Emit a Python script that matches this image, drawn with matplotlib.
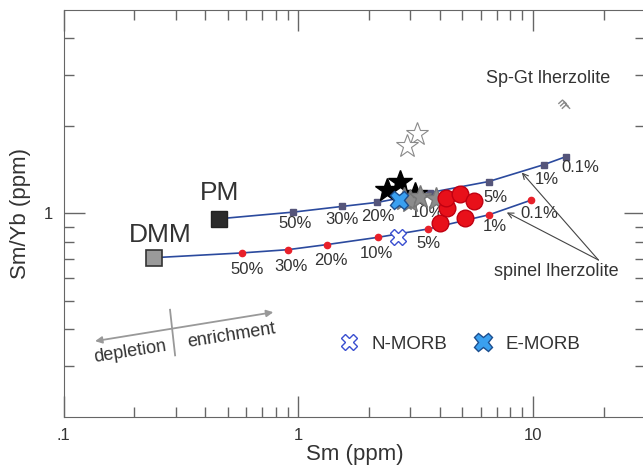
# Sm vs Sm/Yb melting model plot (PM and DMM melting curves)

import matplotlib.pyplot as plt
from matplotlib.path import Path
from matplotlib.ticker import FixedLocator, FixedFormatter, NullFormatter

plt.rcParams["font.family"] = ["Liberation Sans", "DejaVu Sans"]

# source compositions
pm_x, pm_y = 0.459, 0.959
dmm_x, dmm_y = 0.243, 0.705

# melt fractions along the curves
pct_labels = ["50%", "30%", "20%", "10%", "5%", "1%", "0.1%"]

# PM melting curve (dark squares)
pm_curve_x = [0.952, 1.53, 2.17, 3.64, 6.46, 11.14, 13.8]
pm_curve_y = [1.011, 1.057, 1.092, 1.18, 1.287, 1.472, 1.567]
pm_lab_x = [0.968, 1.528, 2.19, 3.54, 6.90, 11.45, 15.88]
pm_lab_y = [0.922, 0.951, 0.974, 1.006, 1.132, 1.311, 1.437]

# DMM melting curve (red dots)
dmm_curve_x = [0.574, 0.901, 1.325, 2.18, 3.58, 6.50, 9.80]
dmm_curve_y = [0.732, 0.751, 0.782, 0.828, 0.885, 0.99, 1.111]
dmm_lab_x = [0.602, 0.931, 1.379, 2.144, 3.58, 6.90, 10.62]
dmm_lab_y = [0.641, 0.658, 0.689, 0.728, 0.786, 0.900, 0.998]

# samples
open_star_x = [3.20, 2.91]
open_star_y = [1.879, 1.706]
black_star_x = [2.39, 2.71, 3.14]
black_star_y = [1.206, 1.284, 1.168]
gray_star_x = [2.82, 2.99, 3.30, 3.86]
gray_star_y = [1.123, 1.105, 1.141, 1.123]
red_x = [4.02, 4.31, 4.26, 4.89, 5.61, 5.13]
red_y = [0.929, 1.046, 1.132, 1.168, 1.105, 0.967]
nmorb_x, nmorb_y = [2.67], [0.828]
emorb_x, emorb_y = [2.69], [1.111]
spgt_x, spgt_y = [13.3], [2.41]

lineBlue = "#2b4a9e"
textGray = "#333333"

fig = plt.figure(figsize=(6.43, 4.68), dpi=100)
ax = fig.add_axes([0.0991, 0.109, 0.904, 0.8697])
ax.set_xscale("log")
ax.set_yscale("log")
ax.set_xlim(0.1, 30)
ax.set_ylim(0.2, 5)

# melting curves
ax.plot([pm_x] + pm_curve_x, [pm_y] + pm_curve_y, color=lineBlue, lw=1.2, zorder=2)
ax.plot([dmm_x] + dmm_curve_x, [dmm_y] + dmm_curve_y, color=lineBlue, lw=1.2, zorder=2)
ax.plot(pm_curve_x, pm_curve_y, "s", ms=4, color="#55557a", zorder=3)
ax.plot(dmm_curve_x, dmm_curve_y, "o", ms=4.5, color="#e8202a", zorder=3)
ax.plot(pm_x, pm_y, "s", ms=12, mfc="#2b2b2b", mec="#222222", zorder=3)
ax.plot(dmm_x, dmm_y, "s", ms=12, mfc="#9a9a9a", mec="#333333", mew=1.2, zorder=3)

for lab, x, y in zip(pct_labels, pm_lab_x, pm_lab_y):
    ax.text(x, y, lab, fontsize=12, color=textGray, ha="center", va="center")
for lab, x, y in zip(pct_labels, dmm_lab_x, dmm_lab_y):
    ax.text(x, y, lab, fontsize=12, color=textGray, ha="center", va="center")

ax.text(0.4637, 1.177, "PM", fontsize=19, color=textGray, ha="center", va="center")
ax.text(0.2573, 0.845, "DMM", fontsize=19, color=textGray, ha="center", va="center")

# samples
ax.plot(open_star_x, open_star_y, "*", ms=17, mfc="white", mec="#8a8a8a", mew=0.8, ls="none", zorder=4)
ax.plot(black_star_x, black_star_y, "*", ms=18, mfc="black", mec="black", ls="none", zorder=4)
ax.plot(gray_star_x, gray_star_y, "*", ms=17, mfc="#8c8c8c", mec="#777777", ls="none", zorder=5)
ax.plot(red_x, red_y, "o", ms=12, mfc="#e8101a", mec="#c00010", ls="none", zorder=6)
nm, = ax.plot(nmorb_x, nmorb_y, "X", ms=12, mfc="white", mec="#3a4fd0", mew=1.0, ls="none", zorder=7)
em, = ax.plot(emorb_x, emorb_y, "X", ms=13, mfc="#3aa0f0", mec="#1d4f8f", mew=1.0, ls="none", zorder=7)

# Sp-Gt lherzolite symbol: stacked chevrons
verts, codes = [], []
for k in range(3):
    dx, dy = 0.25 * k, -0.35 * k
    verts += [(-0.6 + dx, -0.2 + dy), (0.0 + dx, 0.35 + dy), (0.6 + dx, -0.2 + dy)]
    codes += [Path.MOVETO, Path.LINETO, Path.LINETO]
chevron = Path(verts, codes)
ax.plot(spgt_x, spgt_y, marker=chevron, ms=11, mfc="none", mec="#8a8a8a", mew=1.0, ls="none")
ax.text(11.6, 2.915, "Sp-Gt lherzolite", fontsize=13, color=textGray, ha="center", va="center")

# spinel lherzolite arrows
ax.text(12.55, 0.631, "spinel lherzolite", fontsize=13, color=textGray, ha="center", va="center")
for tx, ty in [(8.96, 1.382), (7.73, 1.008)]:
    ax.annotate("", xy=(tx, ty), xytext=(19.0, 0.692),
                arrowprops=dict(arrowstyle="->", color="#444444", lw=0.8, shrinkA=0, shrinkB=0))

# depletion / enrichment
ax.annotate("", xy=(0.136, 0.3644), xytext=(0.782, 0.458),
            arrowprops=dict(arrowstyle="<|-|>", color="#999999", lw=1.3, mutation_scale=10, shrinkA=0, shrinkB=0))
ax.plot([0.2838, 0.2983], [0.467, 0.3256], color="#999999", lw=1.3)
ax.text(0.1917, 0.334, "depletion", fontsize=13, color=textGray, rotation=9, ha="center", va="center")
ax.text(0.52, 0.3813, "enrichment", fontsize=13, color=textGray, rotation=9, ha="center", va="center")

# legend
ax.legend([nm, em], ["N-MORB", "E-MORB"], ncol=2, frameon=False, loc="center left",
          bbox_to_anchor=(0.442, 0.179), fontsize=13.5, handletextpad=0.6, columnspacing=1.3,
          handlelength=1.2, labelcolor=textGray)

# axes and ticks
ax.xaxis.set_major_locator(FixedLocator([0.1, 1, 10]))
ax.xaxis.set_major_formatter(FixedFormatter([".1", "1", "10"]))
ax.xaxis.set_minor_locator(FixedLocator([0.2, 0.3, 0.4, 0.5, 0.6, 0.7, 0.8, 0.9,
                                         2, 3, 4, 5, 6, 7, 8, 9, 20]))
ax.xaxis.set_minor_formatter(NullFormatter())
ax.yaxis.set_major_locator(FixedLocator([1]))
ax.yaxis.set_major_formatter(FixedFormatter(["1"]))
ax.yaxis.set_minor_locator(FixedLocator([0.3, 0.4, 0.5, 0.6, 0.7, 0.8, 0.9, 2, 3, 4]))
ax.yaxis.set_minor_formatter(NullFormatter())
ax.tick_params(which="both", direction="in", top=True, right=True, color="#666666")
ax.tick_params(which="major", length=15, width=1, labelsize=12, pad=8, labelcolor=textGray)
ax.tick_params(which="minor", length=7.5, width=1)
for s in ax.spines.values():
    s.set_color("#666666")

ax.set_xlabel("Sm (ppm)", fontsize=16, color=textGray, labelpad=1)
ax.set_ylabel("Sm/Yb (ppm)", fontsize=16, color=textGray, labelpad=9)

fig.savefig("out.png", dpi=100)
